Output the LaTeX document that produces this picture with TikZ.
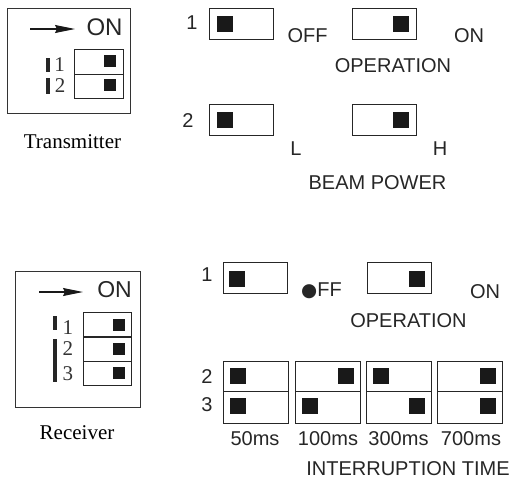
\documentclass[tikz,border=0pt]{standalone}
\usepackage{fontspec}
\setmainfont{Liberation Sans}
\newfontfamily\serifdig{Liberation Serif}
\newfontfamily\djv{DejaVu Sans}
\usetikzlibrary{arrows.meta}
\begin{document}
\begin{tikzpicture}[x=1pt,y=-1pt,
  frame/.style={draw=black!80,line width=1.3pt},
  sw/.style={draw=black!85,line width=1.3pt,minimum width=64pt,minimum height=31pt,inner sep=0pt,anchor=north west},
  cell/.style={draw=black!85,line width=1.2pt,inner sep=0pt,anchor=north west},
  knob/.style={fill=black!90,inner sep=0pt,minimum width=16pt,minimum height=16pt},
  sknob/.style={fill=black!90,inner sep=0pt,minimum width=12pt,minimum height=12pt},
  lbl/.style={font=\fontsize{20}{22}\selectfont,inner sep=0pt,text=black!85},
  big/.style={font=\fontsize{24}{26}\selectfont,inner sep=0pt,text=black!85},
  sdig/.style={font=\serifdig\fontsize{21}{21}\selectfont,inner sep=0pt,text=black!80},
  captext/.style={font=\serifdig\fontsize{21}{23}\selectfont,inner sep=0pt},
  bar/.style={line width=3.2pt,black!85},
  arr/.style={line width=1.1pt,black!90,-{Stealth[length=20pt,width=8pt,inset=2pt]}}]
\useasboundingbox (0,0) rectangle (515,480);
% ---------- Transmitter ----------
\node[frame,minimum width=123pt,minimum height=105pt,anchor=north west] (tbox) at (7,8) {};
\coordinate (tas) at (30,29);
\coordinate (tae) at (75,29);
\draw[arr] (tas) -- (tae);
\node[big] (ton) at (104.5,27.5) {ON};
\node[cell,minimum width=49pt,minimum height=24.5pt] (tc1) at (74,49) {};
\node[cell,minimum width=49pt,minimum height=24.5pt] (tc2) at (74,73.5) {};
\node[sknob] (tk1) at (110,60.5) {};
\node[sknob] (tk2) at (110,84.5) {};
\node[sdig] (td1) at (59.5,65) {1};
\node[sdig] (td2) at (60,86) {2};
\coordinate (tb1a) at (48,58); \coordinate (tb1b) at (48,72);
\coordinate (tb2a) at (48,78); \coordinate (tb2b) at (48,94);
\draw[bar] (tb1a) -- (tb1b);
\draw[bar] (tb2a) -- (tb2b);
\node[captext] (tlab) at (72.5,142) {Transmitter};
% ---------- Transmitter settings ----------
\node[lbl] (t1) at (192,23) {1};
\node[sw] (ts1) at (209,8) {};
\node[knob] (tk3) at (224.5,24) {};
\node[lbl] (toff) at (307.5,35.5) {OFF};
\node[sw] (ts2) at (352,8) {};
\node[knob] (tk4) at (401,24) {};
\node[lbl] (ton2) at (469,35.5) {ON};
\node[lbl] (top) at (393,65.5) {OPERATION};
\node[lbl] (t2) at (188,120.5) {2};
\node[sw] (ts3) at (209,104) {};
\node[knob] (tk5) at (224.5,120) {};
\node[sw] (ts4) at (352,104) {};
\node[knob] (tk6) at (401,120) {};
\node[lbl] (tl) at (296,148.5) {L};
\node[lbl] (th) at (440,148.5) {H};
\node[lbl] (tbp) at (377.5,183) {BEAM POWER};
% ---------- Receiver ----------
\node[frame,minimum width=125pt,minimum height=136pt,anchor=north west] (rbox) at (15,271) {};
\coordinate (ras) at (39,292);
\coordinate (rae) at (83,292);
\draw[arr] (ras) -- (rae);
\node[big,font=\fontsize{23}{25}\selectfont] (ron) at (114.5,289.5) {ON};
\node[cell,minimum width=48pt,minimum height=24.4pt] (rc1) at (83,312) {};
\node[cell,minimum width=48pt,minimum height=24.4pt] (rc2) at (83,336.4) {};
\node[cell,minimum width=48pt,minimum height=24.4pt] (rc3) at (83,360.8) {};
\node[sknob] (rk1) at (119,324.5) {};
\node[sknob] (rk2) at (119,348.5) {};
\node[sknob] (rk3) at (119,373) {};
\node[sdig] (rd1) at (68,328) {1};
\node[sdig] (rd2) at (68,349) {2};
\node[sdig] (rd3) at (68,373.5) {3};
\coordinate (rb1a) at (55,316); \coordinate (rb1b) at (55,330);
\coordinate (rb2a) at (55,339); \coordinate (rb2b) at (55,382);
\draw[bar] (rb1a) -- (rb1b);
\draw[bar] (rb2a) -- (rb2b);
\node[captext] (rlab) at (77,433) {Receiver};
% ---------- Receiver settings ----------
\node[lbl] (r1) at (207,274.5) {1};
\node[sw] (rs1) at (223,262) {};
\node[knob] (rk4) at (237,278.5) {};
\node[lbl] (roff) at (321.5,290.5) {{\djv\fontsize{18.5}{20}\selectfont ●}FF};
\node[sw] (rs2) at (367,262) {};
\node[knob] (rk5) at (417,278.5) {};
\node[lbl] (ron2) at (485,291.5) {ON};
\node[lbl] (rop) at (408.5,320.5) {OPERATION};
\node[lbl] (r2) at (207,377) {2};
\node[lbl] (r3) at (207,405) {3};
% columns
\foreach \i/\x/\t/\b in {1/223/0/0,2/295/1/0,3/366/0/1,4/437/1/1}{
  \node[sw,minimum width=65pt,minimum height=30pt] (gt\i) at (\x,361) {};
  \node[sw,minimum width=65pt,minimum height=32pt] (gb\i) at (\x,391) {};
  \pgfmathsetmacro{\xt}{\t==0 ? \x+14.5 : \x+65-14.5}
  \pgfmathsetmacro{\xb}{\b==0 ? \x+14.5 : \x+65-14.5}
  \node[knob] (gkt\i) at (\xt,376) {};
  \node[knob] (gkb\i) at (\xb,406) {};
}
\node[lbl] (m1) at (255,438.5) {50ms};
\node[lbl] (m2) at (328,438.5) {100ms};
\node[lbl] (m3) at (398.5,438.5) {300ms};
\node[lbl] (m4) at (471,438.5) {700ms};
\node[lbl] (rit) at (408,468.5) {INTERRUPTION TIME};
\end{tikzpicture}
\end{document}
